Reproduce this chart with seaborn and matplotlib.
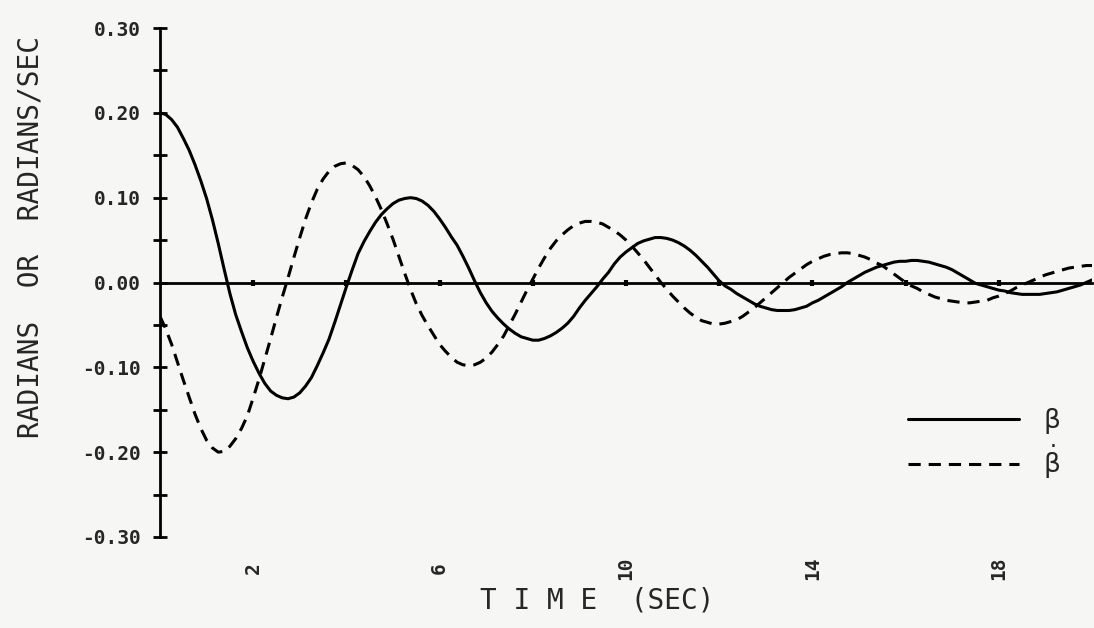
import matplotlib
matplotlib.use("Agg")
import matplotlib.pyplot as plt
import pandas as pd
import seaborn as sns
from matplotlib.ticker import FixedLocator

time_s = [i * 0.125 for i in range(161)]

beta = [
    0.200, 0.198, 0.192, 0.183, 0.170, 0.156, 0.139, 0.120,
    0.099, 0.074, 0.046, 0.016, -0.013, -0.038, -0.058, -0.077,
    -0.093, -0.107, -0.119, -0.128, -0.133, -0.136, -0.137, -0.135,
    -0.130, -0.122, -0.112, -0.098, -0.083, -0.067, -0.047, -0.026,
    -0.005, 0.015, 0.034, 0.048, 0.060, 0.071, 0.080, 0.087,
    0.093, 0.097, 0.099, 0.100, 0.099, 0.096, 0.091, 0.084,
    0.075, 0.065, 0.054, 0.044, 0.031, 0.017, 0.002, -0.012,
    -0.024, -0.034, -0.042, -0.049, -0.055, -0.060, -0.064, -0.066,
    -0.068, -0.068, -0.066, -0.063, -0.059, -0.054, -0.048, -0.040,
    -0.030, -0.021, -0.013, -0.005, 0.004, 0.012, 0.022, 0.030,
    0.036, 0.041, 0.046, 0.049, 0.051, 0.053, 0.053, 0.052,
    0.050, 0.047, 0.043, 0.038, 0.032, 0.025, 0.018, 0.010,
    0.002, -0.004, -0.008, -0.013, -0.017, -0.021, -0.025, -0.028,
    -0.030, -0.032, -0.033, -0.033, -0.033, -0.032, -0.030, -0.028,
    -0.024, -0.021, -0.017, -0.013, -0.009, -0.005, 0.000, 0.004,
    0.008, 0.012, 0.015, 0.018, 0.020, 0.022, 0.024, 0.025,
    0.025, 0.026, 0.026, 0.025, 0.024, 0.022, 0.020, 0.018,
    0.015, 0.011, 0.007, 0.003, -0.001, -0.003, -0.005, -0.007,
    -0.009, -0.010, -0.012, -0.013, -0.014, -0.014, -0.014, -0.014,
    -0.013, -0.012, -0.011, -0.009, -0.007, -0.005, -0.003, 0.000,
    0.003,
]

beta_dot = [
    -0.040, -0.055, -0.073, -0.094, -0.115, -0.135, -0.155, -0.172,
    -0.186, -0.195, -0.200, -0.199, -0.193, -0.184, -0.172, -0.157,
    -0.136, -0.114, -0.090, -0.066, -0.041, -0.017, 0.006, 0.030,
    0.053, 0.075, 0.094, 0.110, 0.122, 0.131, 0.137, 0.140,
    0.141, 0.138, 0.133, 0.125, 0.114, 0.101, 0.086, 0.069,
    0.051, 0.031, 0.011, -0.008, -0.025, -0.039, -0.051, -0.062,
    -0.073, -0.081, -0.088, -0.094, -0.097, -0.098, -0.097, -0.094,
    -0.089, -0.082, -0.073, -0.063, -0.050, -0.037, -0.023, -0.009,
    0.004, 0.017, 0.029, 0.040, 0.049, 0.056, 0.062, 0.067,
    0.070, 0.072, 0.072, 0.071, 0.069, 0.065, 0.061, 0.056,
    0.050, 0.043, 0.035, 0.027, 0.018, 0.009, 0.000, -0.008,
    -0.016, -0.023, -0.030, -0.036, -0.041, -0.045, -0.047, -0.049,
    -0.049, -0.048, -0.046, -0.044, -0.040, -0.035, -0.030, -0.024,
    -0.018, -0.012, -0.006, 0.000, 0.006, 0.011, 0.016, 0.021,
    0.025, 0.028, 0.031, 0.033, 0.034, 0.035, 0.035, 0.034,
    0.032, 0.030, 0.027, 0.023, 0.020, 0.015, 0.010, 0.005,
    0.000, -0.004, -0.007, -0.011, -0.014, -0.017, -0.019, -0.021,
    -0.022, -0.023, -0.024, -0.024, -0.023, -0.022, -0.021, -0.018,
    -0.016, -0.013, -0.010, -0.006, -0.003, 0.000, 0.003, 0.006,
    0.009, 0.011, 0.013, 0.015, 0.017, 0.018, 0.019, 0.020,
    0.020,
]

series_names = ["beta", "beta_dot"]
legend_labels = [r"$\mathrm{\beta}$", r"$\dot{\mathrm{\beta}}$"]
y_ticks = [-0.30, -0.20, -0.10, 0.00, 0.10, 0.20, 0.30]
y_tick_labels = ["-0.30", "-0.20", "-0.10", "0.00", "0.10", "0.20", "0.30"]
y_minor = [-0.25, -0.15, -0.05, 0.05, 0.15, 0.25]
x_ticks = [2, 4, 6, 8, 10, 12, 14, 16, 18]
x_tick_labels = ["2", "6", "10", "14", "18"]
x_label = "T I M E  (SEC)"
y_label = "RADIANS  OR  RADIANS/SEC"

# ---- styling ----
BG = "#f6f6f4"
sns.set_theme(style="white", rc={"figure.facecolor": BG, "axes.facecolor": BG})
plt.rcParams["font.family"] = ["DejaVu Sans"]
plt.rcParams["mathtext.fontset"] = "dejavusans"
MONO = "DejaVu Sans Mono"

n = len(time_s)
df = pd.DataFrame({
    "t": time_s + time_s,
    "v": beta + beta_dot,
    "series": [series_names[0]] * n + [series_names[1]] * n,
})

fig = plt.figure(figsize=(10.94, 6.28), dpi=100)
ax = fig.add_axes([160 / 1094, 1 - 537 / 628, (1092 - 160) / 1094, (537 - 28) / 628])

sns.lineplot(data=df, x="t", y="v", style="series",
             dashes={"beta": "", "beta_dot": (4, 2.6)},
             color="black", linewidth=2.2, estimator=None, sort=False,
             legend=False, ax=ax)

ax.set_xlim(0, 20)
ax.set_ylim(-0.30, 0.30)
ax.set_xlabel("")
ax.set_ylabel("")

for s in ["top", "right"]:
    ax.spines[s].set_visible(False)
ax.spines["bottom"].set_position(("data", 0))
for s in ["bottom", "left"]:
    ax.spines[s].set_linewidth(2.0)
    ax.spines[s].set_color("black")

ax.set_xticks(x_ticks)
ax.set_xticklabels([])
ax.tick_params(axis="x", bottom=True, direction="inout", length=5, width=3,
               color="black")

ax.set_yticks(y_ticks)
ax.set_yticklabels(y_tick_labels, fontfamily=MONO, fontweight="bold", fontsize=14)
ax.yaxis.set_minor_locator(FixedLocator(y_minor))
ax.tick_params(axis="y", which="both", left=True, direction="inout", length=10,
               width=2.0, color="black", pad=9)

xtrans = ax.get_xaxis_transform()
for lab in x_tick_labels:
    ax.text(float(lab), -0.062, lab, transform=xtrans, rotation=90,
            ha="center", va="center", fontfamily=MONO, fontweight="bold", fontsize=14)

fig.text(31 / 1094, 1 - 237 / 628, y_label, rotation=90, ha="center", va="center",
         fontfamily=MONO, fontsize=20)
fig.text(597 / 1094, 1 - 600 / 628, x_label, ha="center", va="center",
         fontfamily=MONO, fontsize=20)

handles = ax.get_lines()[:2]
ax.legend(handles=handles, labels=legend_labels, loc="upper left",
          bbox_to_anchor=(908 / 1094, 1 - 406 / 628), bbox_transform=fig.transFigure,
          frameon=False, handlelength=4.2, fontsize=19, labelspacing=0.25,
          handletextpad=0.9, borderpad=0, borderaxespad=0)

fig.savefig("out.png", dpi=100, facecolor=BG)
